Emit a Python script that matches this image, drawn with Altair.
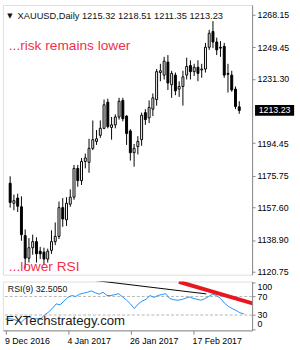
import altair as alt
import pandas as pd

# ---------------- data ----------------
dates = ["2016-12-09", "2016-12-12", "2016-12-13", "2016-12-14", "2016-12-15", "2016-12-16",
         "2016-12-19", "2016-12-20", "2016-12-21", "2016-12-22", "2016-12-23",
         "2016-12-27", "2016-12-28", "2016-12-29", "2016-12-30",
         "2017-01-03", "2017-01-04", "2017-01-05", "2017-01-06",
         "2017-01-09", "2017-01-10", "2017-01-11", "2017-01-12", "2017-01-13",
         "2017-01-16", "2017-01-17", "2017-01-18", "2017-01-19", "2017-01-20",
         "2017-01-23", "2017-01-24", "2017-01-25", "2017-01-26", "2017-01-27",
         "2017-01-30", "2017-01-31", "2017-02-01", "2017-02-02", "2017-02-03",
         "2017-02-06", "2017-02-07", "2017-02-08", "2017-02-09", "2017-02-10",
         "2017-02-13", "2017-02-14", "2017-02-15", "2017-02-16", "2017-02-17",
         "2017-02-20", "2017-02-21", "2017-02-22", "2017-02-23", "2017-02-24",
         "2017-02-27", "2017-02-28", "2017-03-01", "2017-03-02", "2017-03-03",
         "2017-03-06", "2017-03-07", "2017-03-08"]

opens = [1171.5, 1160.0, 1163.0, 1158.0, 1141.5, 1128.5, 1134.5, 1138.0, 1132.5, 1132.0,
         1128.0, 1133.0, 1138.0, 1141.0, 1157.5, 1150.5, 1159.5, 1163.5, 1180.0, 1173.0,
         1184.0, 1183.5, 1191.5, 1195.5, 1199.0, 1203.0, 1218.0, 1203.5, 1205.0, 1209.5,
         1219.0, 1210.0, 1201.5, 1189.0, 1192.5, 1196.5, 1212.0, 1209.0, 1214.0, 1219.5,
         1235.0, 1233.5, 1241.0, 1228.0, 1233.5, 1225.5, 1227.0, 1233.5, 1239.0, 1235.5,
         1238.0, 1236.5, 1237.0, 1249.5, 1258.5, 1252.5, 1249.5, 1250.0, 1234.5, 1233.5,
         1225.5, 1215.32]
highs = [1175.5, 1165.0, 1165.5, 1164.0, 1145.0, 1140.0, 1142.0, 1140.5, 1135.0, 1134.5,
         1134.0, 1144.5, 1149.0, 1161.0, 1163.0, 1163.5, 1168.0, 1182.0, 1182.0, 1186.0,
         1188.5, 1197.0, 1207.5, 1202.0, 1207.5, 1219.5, 1220.0, 1209.5, 1211.0, 1220.5,
         1220.5, 1210.5, 1202.5, 1194.0, 1198.5, 1212.0, 1214.0, 1219.0, 1223.0, 1237.0,
         1240.0, 1244.0, 1245.0, 1236.0, 1235.0, 1230.0, 1236.0, 1243.5, 1242.0, 1240.0,
         1242.0, 1240.0, 1252.0, 1259.5, 1264.5, 1255.0, 1253.0, 1252.0, 1240.0, 1236.0,
         1227.0, 1218.51]
lows = [1157.5, 1156.0, 1155.0, 1138.5, 1122.5, 1126.0, 1130.5, 1126.0, 1128.0, 1124.5,
        1126.0, 1131.0, 1136.0, 1139.5, 1146.5, 1147.0, 1158.0, 1162.0, 1169.5, 1170.5,
        1180.0, 1177.5, 1190.5, 1193.5, 1197.5, 1202.5, 1203.0, 1196.5, 1203.0, 1208.0,
        1207.0, 1193.5, 1184.5, 1181.0, 1188.0, 1193.0, 1205.0, 1206.0, 1210.0, 1216.0,
        1230.0, 1231.0, 1225.0, 1220.5, 1222.0, 1221.0, 1216.0, 1231.0, 1231.0, 1233.0,
        1230.0, 1232.0, 1235.0, 1248.0, 1249.0, 1245.0, 1244.0, 1232.0, 1223.5, 1224.0,
        1214.0, 1211.35]
closes = [1160.5, 1161.5, 1158.3, 1142.0, 1128.5, 1134.5, 1138.0, 1131.0, 1131.0, 1128.0,
          1132.5, 1138.0, 1141.0, 1157.5, 1151.0, 1160.0, 1163.5, 1180.0, 1173.0, 1184.0,
          1186.0, 1191.5, 1196.5, 1197.0, 1203.0, 1216.5, 1204.0, 1205.0, 1209.5, 1218.5,
          1208.5, 1200.0, 1189.0, 1191.5, 1195.5, 1210.5, 1208.0, 1215.0, 1220.5, 1235.5,
          1236.0, 1241.5, 1229.0, 1234.5, 1224.5, 1227.0, 1232.5, 1238.5, 1235.5, 1238.0,
          1234.5, 1237.0, 1249.5, 1257.5, 1252.5, 1248.0, 1249.0, 1233.5, 1234.0, 1225.0,
          1215.5, 1213.23]
rsi9 = [21, 22, 21, 18, 14, 22, 26, 22, 22, 21, 30, 36, 44, 54, 52, 60, 68, 72, 70, 75,
        77, 79, 82, 78, 75, 79, 72, 72, 74, 76, 69, 62, 54, 44, 54, 60, 64, 72, 68, 72,
        74, 76, 66, 63, 62, 63, 66, 69, 66, 64, 62, 65, 70, 75, 72, 66, 56, 49, 44, 40,
        35, 32.505]

tick_idx = [0, 16, 32, 48]
tick_labels = ["9 Dec 2016", "4 Jan 2017", "26 Jan 2017", "17 Feb 2017"]
price_ticks = [1120.75, 1138.90, 1157.60, 1175.75, 1194.45, 1231.30, 1249.45, 1268.15]
rsi_ticks = [0, 30, 70, 100]
rsi_levels = [30, 70]

# RSI-panel trendlines (bar index, RSI value)
black_tl_i = [15.0, 51.4]
black_tl_v = [112.5, 75.5]
red_tl_i = [44.4, 64.5]
red_tl_v = [101.6, 52.0]

symbol = "XAUUSD,Daily"
note_top = "...risk remains lower"
note_bottom = "...lower RSI"
watermark = "FXTechstrategy.com"

# ---------------- frames ----------------
df = pd.DataFrame({"i": list(range(len(dates))), "date": dates, "open": opens,
                   "high": highs, "low": lows, "close": closes, "rsi": rsi9})

FONT = "Liberation Sans"
RED = "#f2304a"
xscale = alt.Scale(domain=[-0.625, 63.125], nice=False, zero=False)
pscale = alt.Scale(domain=[1119.05, 1273.75], nice=False, zero=False)
rscale = alt.Scale(domain=[-3.05, 102.2], nice=False, zero=False)

price_axis = alt.Axis(orient="right", values=price_ticks, format=".2f", title=None,
                      tickSize=3, labelPadding=2, labelFontSize=9, grid=False,
                      labelOverlap=False, labelFlush=False)

base = alt.Chart(df)
wicks = base.mark_rule(color="black", strokeWidth=1).encode(
    x=alt.X("i:Q", scale=xscale, axis=None),
    y=alt.Y("low:Q", scale=pscale, axis=price_axis, title=None),
    y2="high:Q")
bodies = base.mark_bar(size=2, stroke="black", strokeWidth=1).encode(
    x=alt.X("i:Q", scale=xscale, axis=None),
    y=alt.Y("open:Q", scale=pscale, axis=price_axis, title=None),
    y2="close:Q",
    fill=alt.condition("datum.close >= datum.open", alt.value("white"), alt.value("black")))

last = df.tail(1)
pbox = alt.Chart(last).mark_rule(color="black", strokeWidth=11, strokeCap="butt", clip=False).encode(
    x=alt.value(258), x2=alt.value(298), y=alt.Y("close:Q", scale=pscale, axis=price_axis, title=None))
ptext = alt.Chart(last).mark_text(color="white", fontSize=9, font=FONT, align="center",
                                  baseline="middle", clip=False).encode(
    x=alt.value(278), y=alt.Y("close:Q", scale=pscale, axis=price_axis, title=None),
    text=alt.Text("close:Q", format=".2f"))

header_txt = f"{symbol} {opens[-1]:.2f} {highs[-1]:.2f} {lows[-1]:.2f} {closes[-1]:.2f}"
header = alt.Chart(pd.DataFrame({"t": [header_txt]})).mark_text(
    align="left", baseline="middle", fontSize=9.5, font=FONT, color="#111111").encode(
    x=alt.value(15), y=alt.value(11), text="t:N")
tri = alt.Chart(pd.DataFrame({"t": ["▼"]})).mark_text(
    align="center", baseline="middle", fontSize=7, font="DejaVu Sans", color="#111111").encode(
    x=alt.value(7), y=alt.value(11), text="t:N")
n1 = alt.Chart(pd.DataFrame({"t": [note_top]})).mark_text(
    align="left", baseline="middle", fontSize=14, font=FONT, color=RED).encode(
    x=alt.value(6), y=alt.value(42), text="t:N")
n2 = alt.Chart(pd.DataFrame({"t": [note_bottom]})).mark_text(
    align="left", baseline="middle", fontSize=14, font=FONT, color=RED).encode(
    x=alt.value(6), y=alt.value(268), text="t:N")

upper = alt.layer(wicks, bodies, pbox, ptext, header, tri, n1, n2).properties(width=255, height=276)

# ---------------- RSI panel ----------------
label_expr = " : ".join(f"datum.value == {k} ? '{s}'" for k, s in zip(tick_idx, tick_labels)) + " : ''"
date_axis = alt.Axis(values=tick_idx, labelExpr=label_expr, labelAlign="left", labelFlush=False,
                     labelOverlap=False, tickSize=4, labelPadding=2, labelOffset=-1,
                     labelFontSize=9, title=None, grid=False)
rsi_axis = alt.Axis(orient="right", values=rsi_ticks, labelFlush=10, tickSize=3, labelPadding=2,
                    labelFontSize=9, title=None, grid=False, labelOverlap=False)

levels = alt.Chart(pd.DataFrame({"lvl": rsi_levels})).mark_rule(
    color="#b4b4b4", strokeDash=[3, 2], strokeWidth=1).encode(
    y=alt.Y("lvl:Q", scale=rscale, axis=rsi_axis, title=None))
rsi_line = base.mark_line(color="#1e90ff", strokeWidth=1).encode(
    x=alt.X("i:Q", scale=xscale, axis=date_axis, title=None),
    y=alt.Y("rsi:Q", scale=rscale, axis=rsi_axis, title=None))
btl = alt.Chart(pd.DataFrame({"i": black_tl_i, "v": black_tl_v})).mark_line(
    color="black", strokeWidth=1, clip=True).encode(
    x=alt.X("i:Q", scale=xscale, axis=date_axis, title=None),
    y=alt.Y("v:Q", scale=rscale, axis=rsi_axis, title=None))
rtl = alt.Chart(pd.DataFrame({"i": red_tl_i, "v": red_tl_v})).mark_line(
    color="#e8161f", strokeWidth=4, strokeCap="butt", clip=True).encode(
    x=alt.X("i:Q", scale=xscale, axis=date_axis, title=None),
    y=alt.Y("v:Q", scale=rscale, axis=rsi_axis, title=None))
rsi_title = alt.Chart(pd.DataFrame({"t": [f"RSI(9) {rsi9[-1]:.4f}"]})).mark_text(
    align="left", baseline="middle", fontSize=9, font=FONT, color="#111111").encode(
    x=alt.value(5), y=alt.value(8), text="t:N")
wm = alt.Chart(pd.DataFrame({"t": [watermark]})).mark_text(
    align="left", baseline="middle", fontSize=13.5, font=FONT, color="#1a1a1a").encode(
    x=alt.value(3), y=alt.value(41), text="t:N")

lower = alt.layer(levels, rsi_line, btl, rtl, rsi_title, wm).properties(width=255, height=50)

chart = alt.vconcat(upper, lower, spacing=3).properties(
    padding={"left": 2, "top": 0, "right": 0, "bottom": 0}
).configure_view(stroke="black", strokeWidth=1).configure_axis(
    domainColor="black", tickColor="black", labelColor="black", labelFont=FONT, grid=False,
    labelOverlap=False
).configure(background="white")

chart.save("out.html", embed_options={"renderer": "svg", "actions": False})
